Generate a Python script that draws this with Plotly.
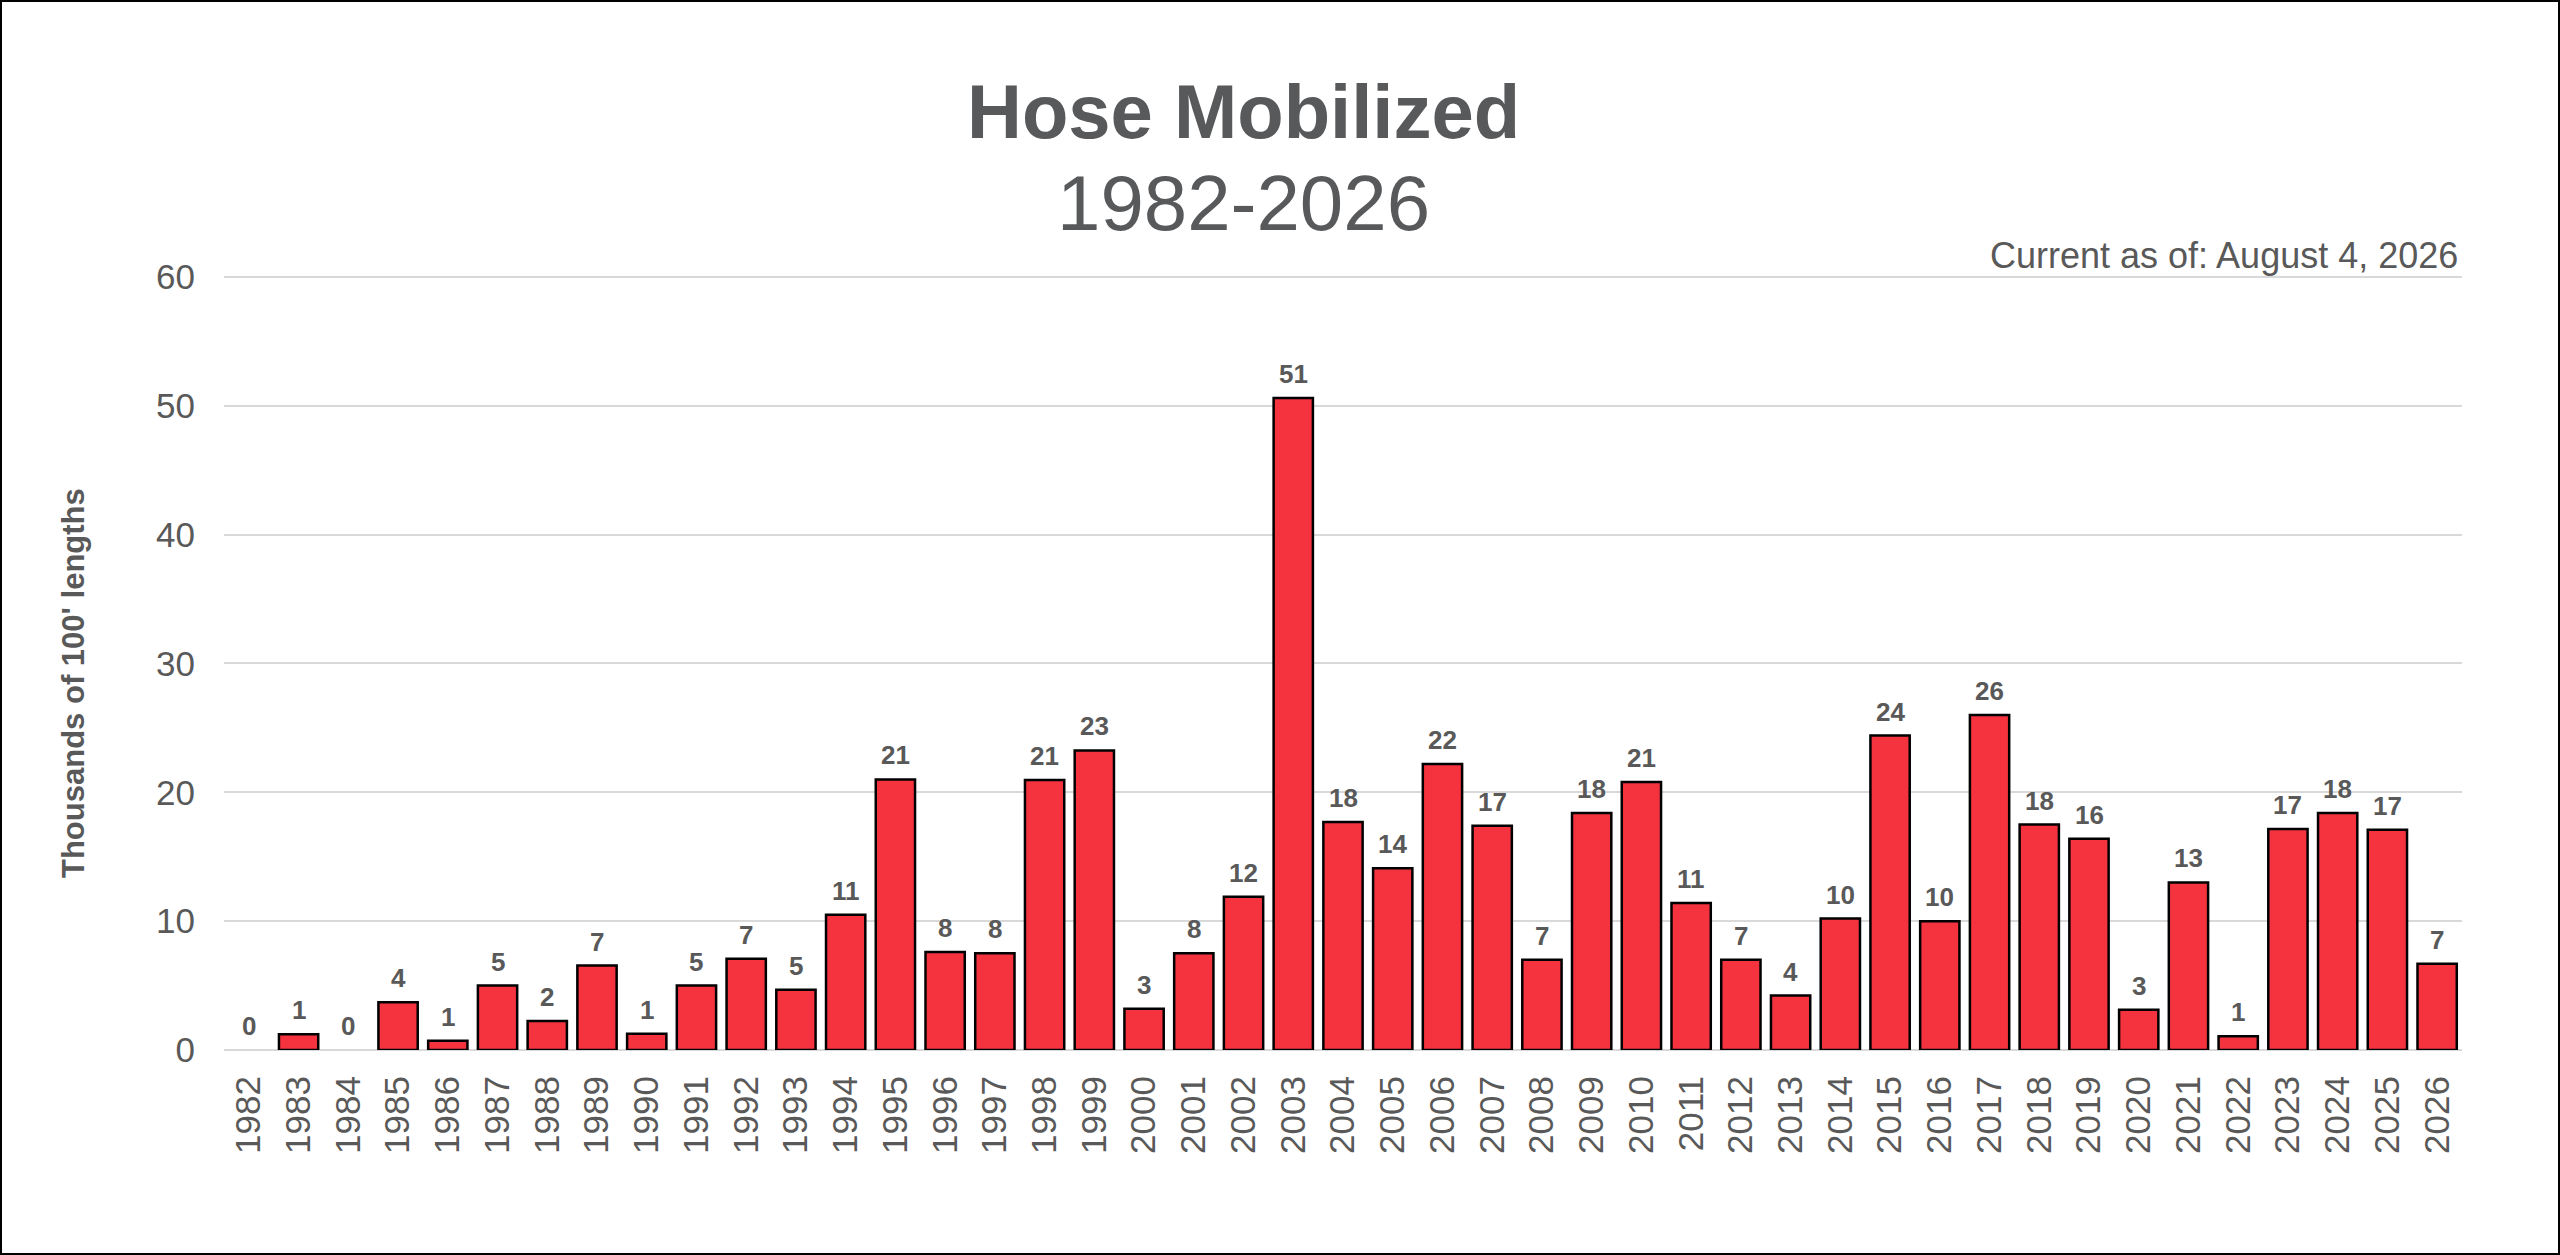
import plotly.graph_objects as go

years = [str(y) for y in range(1982, 2027)]
values = [0, 1.22, 0, 3.7, 0.72, 5.0, 2.25, 6.55, 1.26, 5.0, 7.08, 4.67, 10.5,
          21.0, 7.6, 7.5, 20.95, 23.25, 3.21, 7.5, 11.9, 50.6, 17.7, 14.1,
          22.2, 17.4, 7.0, 18.4, 20.8, 11.4, 7.0, 4.22, 10.2, 24.4, 10.0,
          26.0, 17.5, 16.4, 3.13, 13.0, 1.06, 17.15, 18.4, 17.1, 6.7]
labels = ["0", "1", "0", "4", "1", "5", "2", "7", "1", "5", "7", "5", "11",
          "21", "8", "8", "21", "23", "3", "8", "12", "51", "18", "14",
          "22", "17", "7", "18", "21", "11", "7", "4", "10", "24", "10",
          "26", "18", "16", "3", "13", "1", "17", "18", "17", "7"]
y_ticks = [0, 10, 20, 30, 40, 50, 60]

title = "Hose Mobilized"
subtitle = "1982-2026"
note = "Current as of: August 4, 2026"
y_title = "Thousands of 100' lengths"

W, H = 2560, 1255
Y_MAX = 60.3
L, R, T, B = 224, 98, 273, 205
PW, PH = W - L - R, H - T - B

def px(x):
    return (x - L) / PW

def py(y):
    return (H - B - y) / PH

GREY = "#595959"
FONT = "Liberation Sans, Arial, DejaVu Sans, sans-serif"

fig = go.Figure()
fig.add_trace(go.Bar(
    x=years, y=values,
    marker=dict(color="#F5333F",
                line=dict(color="#000000",
                          width=[2.5 if v > 0 else 0 for v in values])),
    cliponaxis=False, hoverinfo="skip",
))

for i, (v, lab) in enumerate(zip(values, labels)):
    fig.add_annotation(x=i, y=v, text="<b>" + lab + "</b>", xref="x", yref="y",
                       xanchor="center", yanchor="bottom", yshift=7,
                       showarrow=False,
                       font=dict(family=FONT, size=26, color=GREY))

fig.update_layout(
    width=W, height=H,
    margin=dict(l=L, r=R, t=T, b=B, pad=0),
    paper_bgcolor="white", plot_bgcolor="white",
    bargap=0.21, showlegend=False,
    font=dict(family=FONT, color=GREY),
)
fig.update_xaxes(
    type="category", categoryorder="array", categoryarray=years,
    range=[-0.5, len(years) - 0.5], tickangle=-90, showgrid=False,
    showline=False, ticks="", tickfont=dict(size=35, color=GREY, family=FONT),
    ticklabelstandoff=18,
)
fig.update_yaxes(
    range=[0, Y_MAX], tickvals=y_ticks, showgrid=True, gridcolor="#D9D9D9",
    gridwidth=2, zeroline=True, zerolinecolor="#D9D9D9", zerolinewidth=2,
    showline=False, ticks="", tickfont=dict(size=35, color=GREY, family=FONT),
    ticklabelstandoff=28,
)

fig.add_annotation(text="<b>" + title + "</b>", x=px(1243), y=py(112),
                   xref="paper", yref="paper", xanchor="center", yanchor="middle",
                   showarrow=False, font=dict(size=76, color="#58595B", family=FONT))
fig.add_annotation(text=subtitle, x=px(1243), y=py(203),
                   xref="paper", yref="paper", xanchor="center", yanchor="middle",
                   showarrow=False, font=dict(size=78, color="#58595B", family=FONT))
fig.add_annotation(text=note, x=px(2460), y=py(256),
                   xref="paper", yref="paper", xanchor="right", yanchor="middle",
                   showarrow=False, font=dict(size=36, color=GREY, family=FONT))
fig.add_annotation(text="<b>" + y_title + "</b>", x=px(73), y=py(683),
                   xref="paper", yref="paper", xanchor="center", yanchor="middle",
                   textangle=-90, showarrow=False,
                   font=dict(size=31, color=GREY, family=FONT))

fig.add_shape(type="rect", xref="paper", yref="paper",
              x0=px(1), x1=px(W - 1), y0=py(H - 1), y1=py(1),
              line=dict(color="black", width=2), fillcolor="rgba(0,0,0,0)")

fig.write_html("out.html", post_script="document.body.style.margin='0';",
               config={"displayModeBar": False})
